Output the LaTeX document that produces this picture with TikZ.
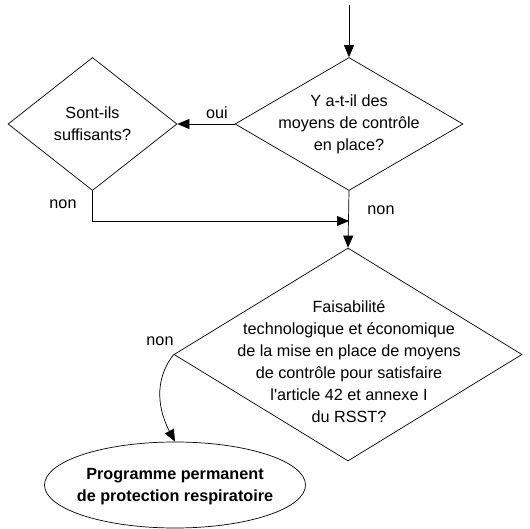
\documentclass[tikz,border=0pt]{standalone}
\usepackage{fontspec}
\setmainfont{Liberation Sans}
\usetikzlibrary{shapes.geometric,arrows.meta}
\begin{document}
\begin{tikzpicture}[x=1pt,y=-1pt,
  every node/.style={font=\fontsize{16.2}{22}\selectfont},
  decision/.style={draw,diamond,inner sep=0pt,line width=0.7pt},
  terminal/.style={draw,ellipse,inner sep=0pt,line width=0.7pt},
  caption/.style={align=center,inner sep=0pt},
  flow/.style={line width=0.7pt,-{Triangle[length=12pt,width=10pt]}},
  tag/.style={inner sep=0pt}]
\useasboundingbox (0,0) rectangle (530,529);

% decisions
\node[decision,minimum width=228pt,minimum height=133pt] (d1) at (349,124) {};
\node[caption] (t1) at (d1.center) {Y a-t-il des\\moyens de contrôle\\en place?};

\node[decision,minimum width=169pt,minimum height=133pt] (d2) at (92.5,124) {};
\node[caption] (t2) at (d2.center) {Sont-ils\\suffisants?};

\node[decision,minimum width=348pt,minimum height=213pt] (d3) at (348,354.5) {};
\node[caption] (t3) at (349,362) {Faisabilité\\technologique et économique\\de la mise en place de moyens\\de contrôle pour satisfaire\\l\textquotesingle article 42 et annexe I\\du RSST?};

% outcome
\node[terminal,minimum width=261pt,minimum height=86pt] (e) at (175,485) {};
\node[caption,font=\fontsize{16.2}{22}\selectfont\bfseries] (te) at (175,487) {Programme permanent\\de protection respiratoire};

% connectors
\coordinate (start) at (349,5);
\coordinate (join) at (92.5,221);
\coordinate (merge) at (349,221);
\draw[flow] (start) -- (d1.north);
\draw[flow] (d1.west) -- (d2.east);
\draw[flow] (d1.south) -- (d3.north);
\draw[flow] (d2.south) -- (join) -- (merge);
\draw[flow] (d3.west) to[out=-128,in=118] (e.north);

% branch labels
\node[tag] (l1) at (217,113) {oui};
\node[tag] (l2) at (63,204) {non};
\node[tag] (l3) at (381,210) {non};
\node[tag] (l4) at (160,341) {non};
\end{tikzpicture}
\end{document}
